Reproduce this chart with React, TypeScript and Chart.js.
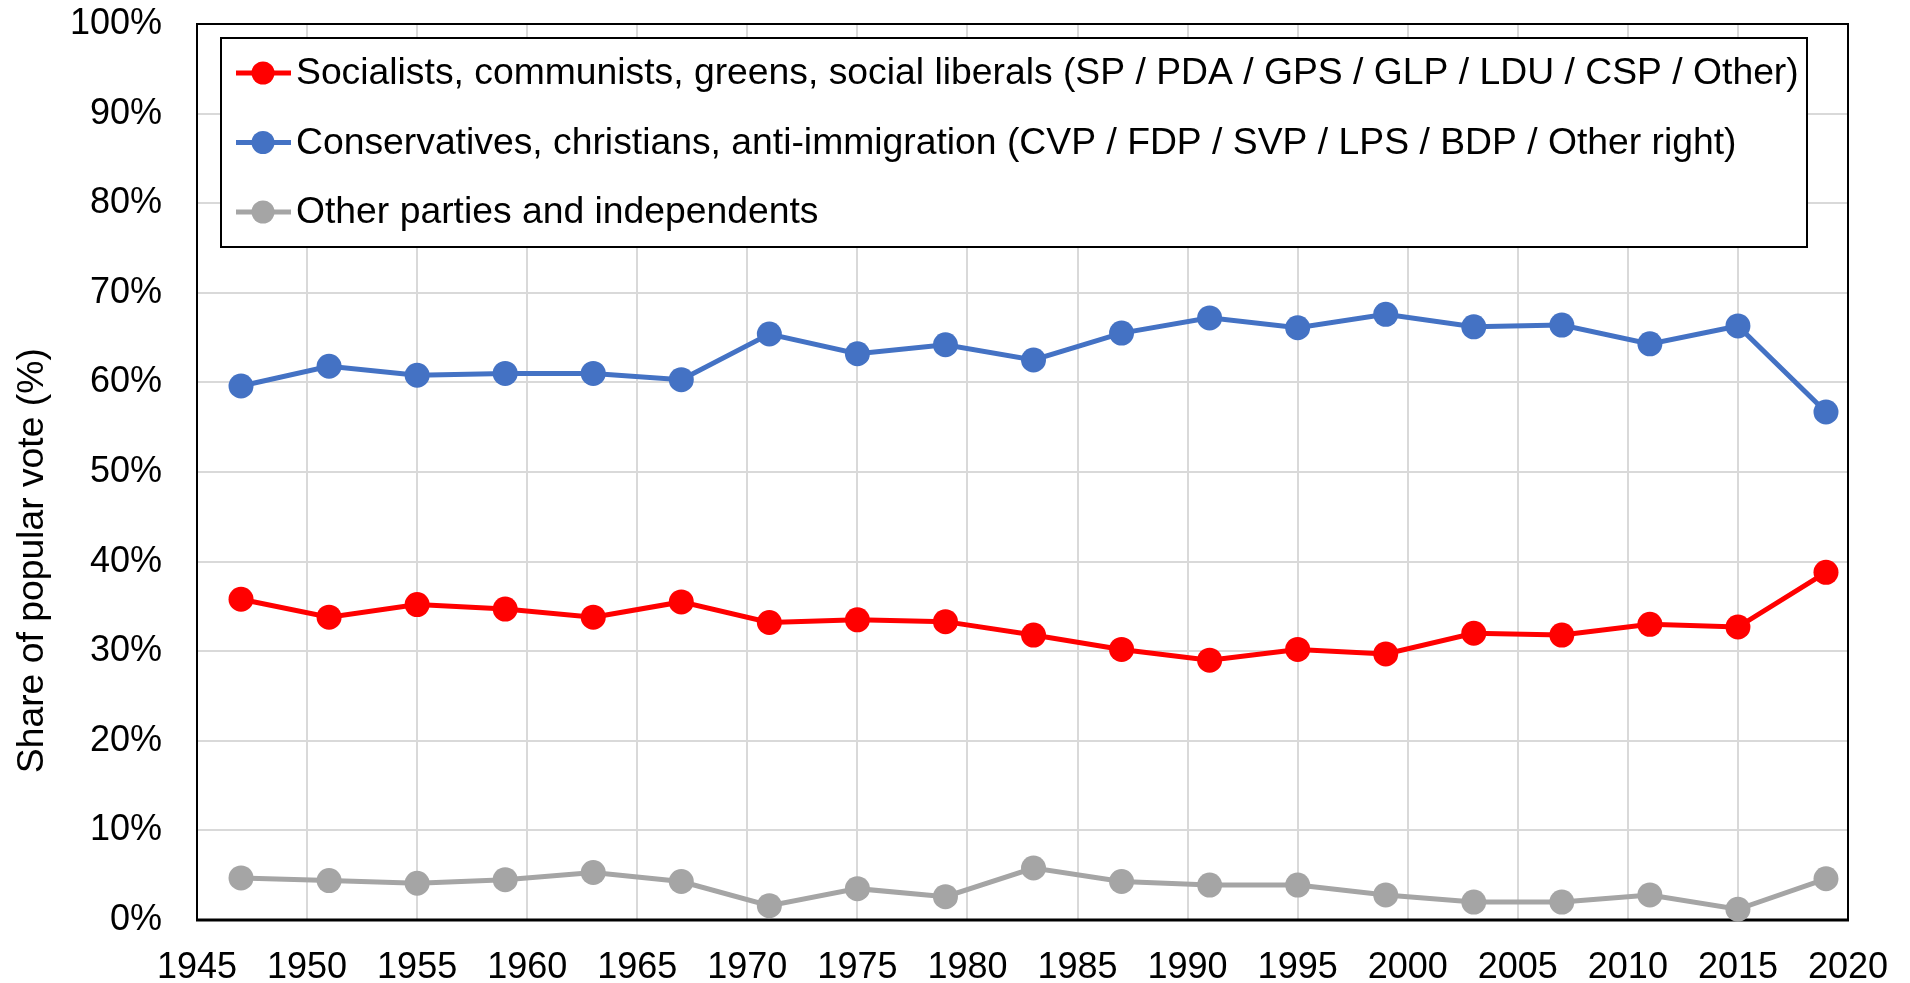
import React, { useEffect, useRef } from "react";
import { Chart, registerables } from "chart.js";

Chart.register(...registerables);

const years = [1947, 1951, 1955, 1959, 1963, 1967, 1971, 1975, 1979, 1983, 1987, 1991, 1995, 1999, 2003, 2007, 2011, 2015, 2019];
const socialists = [35.8, 33.8, 35.2, 34.7, 33.8, 35.5, 33.2, 33.5, 33.3, 31.8, 30.2, 29.0, 30.2, 29.7, 32.0, 31.8, 33.0, 32.7, 38.8];
const conservatives = [59.6, 61.8, 60.8, 61.0, 61.0, 60.3, 65.4, 63.2, 64.2, 62.5, 65.5, 67.2, 66.1, 67.6, 66.2, 66.4, 64.3, 66.3, 56.7];
const others = [4.7, 4.4, 4.1, 4.5, 5.3, 4.3, 1.6, 3.5, 2.6, 5.8, 4.3, 3.9, 3.9, 2.8, 2.0, 2.0, 2.8, 1.2, 4.6];

const seriesLabels = [
  "Socialists, communists, greens, social liberals (SP / PDA / GPS / GLP / LDU / CSP / Other)",
  "Conservatives, christians, anti-immigration (CVP / FDP / SVP / LPS / BDP / Other right)",
  "Other parties and independents",
];
const seriesColors = ["#FF0000", "#4472C4", "#A5A5A5"];
const yTicks = [0, 10, 20, 30, 40, 50, 60, 70, 80, 90, 100];
const yTitle = "Share of popular vote (%)";

const FONT = "'Liberation Sans', Arial, sans-serif";
const FS = 36;
const LFS = 37.3;

const frame = {
  id: "frame",
  beforeDatasetsDraw(chart: any) {
    const { ctx, chartArea: a } = chart;
    ctx.save();
    ctx.strokeStyle = "#000";
    ctx.lineWidth = 2;
    ctx.strokeRect(a.left, a.top, a.right - a.left, a.bottom - a.top);
    ctx.beginPath();
    ctx.lineWidth = 3;
    ctx.moveTo(a.left - 1, a.bottom);
    ctx.lineTo(a.right + 1, a.bottom);
    ctx.stroke();
    ctx.restore();
  },
  afterDatasetsDraw(chart: any) {
    const { ctx, chartArea: a } = chart;
    ctx.save();
    ctx.fillStyle = "#000";
    ctx.font = `${LFS}px ${FONT}`;
    ctx.textAlign = "center";
    ctx.textBaseline = "middle";
    ctx.translate(33, a.top + (a.bottom - a.top) * 0.599);
    ctx.rotate(-Math.PI / 2);
    ctx.fillText(yTitle, 0, 0);
    ctx.restore();

    ctx.save();
    const bx = a.left + 24;
    const by = a.top + 14;
    const bw = a.right - 41 - bx;
    const bh = 209;
    ctx.fillStyle = "#fff";
    ctx.fillRect(bx, by, bw, bh);
    ctx.strokeStyle = "#000";
    ctx.lineWidth = 2;
    ctx.strokeRect(bx, by, bw, bh);
    chart.data.datasets.forEach((ds: any, i: number) => {
      const cy = by + 35 + i * 69.5;
      ctx.strokeStyle = ds.borderColor;
      ctx.lineWidth = 5;
      ctx.beginPath();
      ctx.moveTo(bx + 15, cy);
      ctx.lineTo(bx + 70, cy);
      ctx.stroke();
      ctx.fillStyle = ds.backgroundColor;
      ctx.beginPath();
      ctx.arc(bx + 42, cy, 11.5, 0, Math.PI * 2);
      ctx.fill();
      ctx.fillStyle = "#000";
      ctx.font = `${LFS}px ${FONT}`;
      ctx.textAlign = "left";
      ctx.textBaseline = "middle";
      ctx.fillText(ds.label, bx + 75, cy + 1);
    });
    ctx.restore();
  },
};

export default function App() {
  const ref = useRef<HTMLCanvasElement>(null);
  useEffect(() => {
    document.body.style.margin = "0";
    const mk = (vals: number[]) => years.map((x, i) => ({ x, y: vals[i] }));
    const seriesVals = [socialists, conservatives, others];
    const chart = new Chart(ref.current!, {
      type: "line",
      data: {
        datasets: seriesVals.map((v, i) => ({
          label: seriesLabels[i],
          data: mk(v),
          borderColor: seriesColors[i],
          backgroundColor: seriesColors[i],
          borderWidth: 5,
          pointRadius: 12.5,
          pointBorderWidth: 0,
          pointBackgroundColor: seriesColors[i],
          tension: 0,
          clip: false,
        })),
      },
      options: {
        responsive: false,
        animation: false,
        layout: { padding: { top: 24, right: 62, left: 0, bottom: 0 } },
        plugins: { legend: { display: false }, tooltip: { enabled: false } },
        scales: {
          x: {
            type: "linear",
            min: 1945,
            max: 2020,
            border: { display: false },
            grid: { color: "#D9D9D9", lineWidth: 2, drawTicks: true, tickLength: 26, tickColor: "rgba(0,0,0,0)" },
            ticks: {
              stepSize: 5,
              color: "#000",
              font: { family: FONT, size: FS },
              padding: 0,
              maxRotation: 0,
              autoSkip: false,
              callback: (v: any) => String(v),
            },
            afterFit: (s: any) => {
              s.height = 63;
            },
          },
          y: {
            min: 0,
            max: 100,
            border: { display: false },
            grid: { color: "#D9D9D9", lineWidth: 2, drawTicks: true, tickLength: 35, tickColor: "rgba(0,0,0,0)" },
            afterBuildTicks: (s: any) => {
              s.ticks = yTicks.map((v) => ({ value: v }));
            },
            ticks: {
              color: "#000",
              font: { family: FONT, size: FS },
              padding: 0,
              callback: (v: any) => v + "%",
            },
            afterFit: (s: any) => {
              s.width = 197;
            },
          },
        },
      },
      plugins: [frame],
    });
    return () => chart.destroy();
  }, []);
  return (
    <div style={{ width: 1910, height: 983 }}>
      <canvas ref={ref} width={1910} height={983} />
    </div>
  );
}
